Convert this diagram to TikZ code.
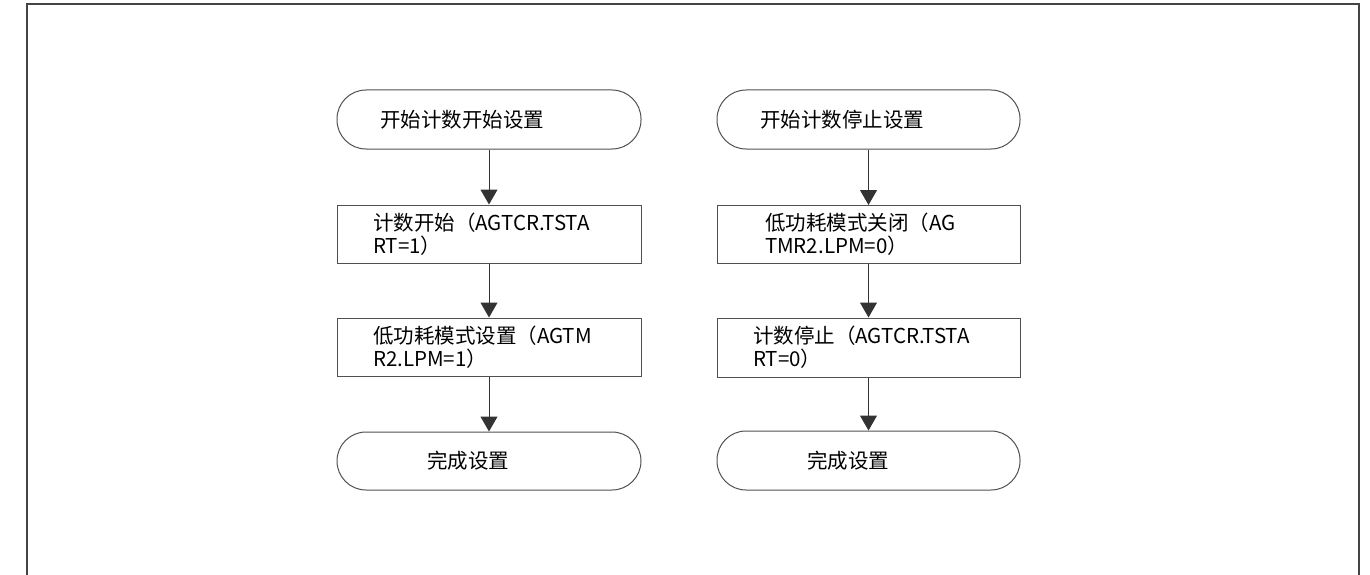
\documentclass[tikz,border=0pt]{standalone}
\usepackage{fontspec}
\setmainfont{Noto Sans CJK SC}
\usetikzlibrary{arrows.meta}
\definecolor{linegray}{HTML}{505050}
\definecolor{framegray}{HTML}{444444}
\begin{document}
\begin{tikzpicture}[x=1pt,y=-1pt,
  every node/.style={font=\fontsize{20.5}{23}\selectfont, text=black, inner xsep=0pt, inner ysep=0pt},
  termbox/.style={draw=linegray, line width=1pt, rectangle, rounded corners=29pt,
    minimum width=304pt, minimum height=58pt, align=left},
  procbox/.style={draw=linegray, line width=1pt, rectangle,
    minimum width=304pt, minimum height=58pt, align=left},
  flowarrow/.style={draw=black!80, line width=1pt, -{Triangle[length=15pt,width=17pt]}}
]
\useasboundingbox (0,0) rectangle (1370,575);
\draw[framegray, line width=1.6pt] (27,575) -- (27,4) -- (1359,4) -- (1359,575);

% left column
\node[termbox, text width=218pt, minimum height=59pt] (s1) at (489,119.5) {开始计数开始设置};
\node[procbox, text width=232pt] (a1) at (489,234) {计数开始（AGTCR.TSTA\\RT=1）};
\node[procbox, text width=232pt] (a2) at (489,347) {低功耗模式设置（AGTM\\R2.LPM=1）};
\node[termbox, text width=124pt] (e1) at (489,461) {完成设置};

% right column
\node[termbox, text width=217pt, minimum width=303pt, minimum height=59pt] (s2) at (868.5,119.5) {开始计数停止设置};
\node[procbox, text width=207pt, minimum width=303pt] (b1) at (868.5,234.5) {低功耗模式关闭（AG\\TMR2.LPM=0）};
\node[procbox, text width=231pt, minimum width=303pt, minimum height=59pt] (b2) at (868.5,347.5) {计数停止（AGTCR.TSTA\\RT=0）};
\node[termbox, text width=123pt, minimum width=303pt, minimum height=59pt] (e2) at (868.5,460.5) {完成设置};

\draw[flowarrow] (s1.south) -- (a1.north);
\draw[flowarrow] (a1.south) -- (a2.north);
\draw[flowarrow] (a2.south) -- (e1.north);
\draw[flowarrow] (s2.south) -- (b1.north);
\draw[flowarrow] (b1.south) -- (b2.north);
\draw[flowarrow] (b2.south) -- (e2.north);
\end{tikzpicture}
\end{document}
